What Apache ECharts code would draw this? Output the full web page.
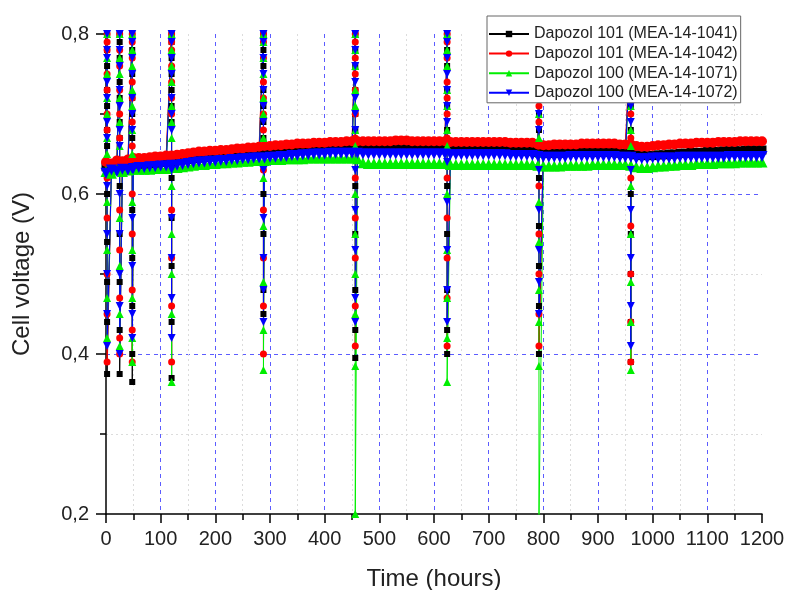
<!DOCTYPE html>
<html>
<head>
<meta charset="utf-8">
<script src="https://cdn.jsdelivr.net/npm/echarts@6/dist/echarts.min.js"></script>
<style>
  html, body { margin: 0; padding: 0; background: #fff; }
  #chart { width: 785px; height: 590px; }
</style>
</head>
<body>
<div id="chart"></div>
<script>
// time grid of the steady parts (hours)
const hours = [
  0, 10, 20, 30, 40, 50, 60, 70, 80, 90, 100, 110, 120, 130, 140, 150, 160, 170, 180, 190,
  200, 210, 220, 230, 240, 250, 260, 270, 280, 290, 300, 310, 320, 330, 340, 350, 360, 370, 380, 390,
  400, 410, 420, 430, 440, 450, 460, 470, 480, 490, 500, 510, 520, 530, 540, 550, 560, 570, 580, 590,
  600, 610, 620, 630, 640, 650, 660, 670, 680, 690, 700, 710, 720, 730, 740, 750, 760, 770, 780, 790,
  800, 810, 820, 830, 840, 850, 860, 870, 880, 890, 900, 910, 920, 930, 940, 950, 960, 970, 980, 990,
  1000, 1010, 1020, 1030, 1040, 1050, 1060, 1070, 1080, 1090, 1100, 1110, 1120, 1130, 1140, 1150, 1160, 1170, 1180, 1190,
  1200
];

// times where the test was stopped (polarisation / restart)
const stops = [2, 25, 48, 120, 288, 456, 624, 792, 960];

const names = [
  'Dapozol 101 (MEA-14-1041)',
  'Dapozol 101 (MEA-14-1042)',
  'Dapozol 100 (MEA-14-1071)',
  'Dapozol 100 (MEA-14-1072)'
];

// steady voltage, one value per entry of hours
const v1041 = [
  0.634, 0.632, 0.636, 0.633, 0.635, 0.637,
  0.638, 0.637, 0.639, 0.638, 0.640, 0.640, 0.641,
  0.642, 0.643, 0.643, 0.644, 0.645, 0.646, 0.647, 0.648,
  0.648, 0.649, 0.650, 0.650, 0.651, 0.651, 0.652, 0.652, 0.653,
  0.653, 0.654, 0.654, 0.655, 0.655, 0.656, 0.656, 0.656, 0.657, 0.657, 0.657,
  0.657, 0.658, 0.658, 0.658, 0.658, 0.659, 0.658, 0.658, 0.658, 0.658,
  0.658, 0.658, 0.659, 0.658, 0.658, 0.658, 0.658, 0.657, 0.658, 0.658,
  0.658, 0.658, 0.656, 0.655, 0.655, 0.656, 0.656, 0.656, 0.656, 0.656,
  0.656, 0.655, 0.655, 0.655, 0.655, 0.654, 0.654, 0.654, 0.652, 0.651,
  0.651, 0.651, 0.651, 0.652, 0.652, 0.652, 0.652, 0.652, 0.652, 0.652,
  0.652, 0.652, 0.652, 0.651, 0.651, 0.651, 0.649, 0.648, 0.648, 0.648,
  0.649, 0.649, 0.650, 0.650, 0.651, 0.651, 0.652, 0.652, 0.652, 0.653,
  0.653, 0.653, 0.654, 0.654, 0.654, 0.654, 0.655, 0.655, 0.655, 0.655
];
const v1042 = [
  0.640, 0.638, 0.642, 0.641, 0.643, 0.645,
  0.645, 0.645, 0.646, 0.647, 0.647, 0.648, 0.648,
  0.649, 0.650, 0.651, 0.652, 0.653, 0.653, 0.654, 0.654,
  0.655, 0.655, 0.656, 0.657, 0.657, 0.658, 0.658, 0.659, 0.660,
  0.660, 0.661, 0.661, 0.662, 0.662, 0.663, 0.663, 0.663, 0.664, 0.664, 0.664,
  0.665, 0.665, 0.665, 0.666, 0.666, 0.666, 0.666, 0.666, 0.666, 0.666,
  0.666, 0.666, 0.667, 0.667, 0.667, 0.666, 0.666, 0.666, 0.666, 0.666,
  0.666, 0.666, 0.665, 0.665, 0.665, 0.665, 0.665, 0.665, 0.665, 0.665,
  0.665, 0.665, 0.665, 0.664, 0.664, 0.664, 0.664, 0.664, 0.662, 0.661,
  0.661, 0.662, 0.662, 0.662, 0.662, 0.662, 0.663, 0.663, 0.663, 0.663,
  0.663, 0.663, 0.663, 0.662, 0.662, 0.662, 0.660, 0.659, 0.659, 0.660,
  0.661, 0.661, 0.662, 0.662, 0.663, 0.663, 0.663, 0.664, 0.664, 0.664,
  0.664, 0.665, 0.665, 0.665, 0.665, 0.666, 0.666, 0.666, 0.666, 0.666
];
const v1071 = [
  0.628, 0.626, 0.630, 0.628, 0.630, 0.631,
  0.631, 0.631, 0.631, 0.632, 0.632, 0.632, 0.633,
  0.633, 0.634, 0.635, 0.636, 0.637, 0.637, 0.638, 0.638,
  0.639, 0.639, 0.640, 0.640, 0.641, 0.641, 0.642, 0.642, 0.642,
  0.643, 0.643, 0.643, 0.644, 0.644, 0.644, 0.644, 0.645, 0.645, 0.645, 0.645,
  0.645, 0.645, 0.645, 0.645, 0.645, 0.644, 0.639, 0.638, 0.638, 0.638,
  0.638, 0.638, 0.638, 0.638, 0.638, 0.638, 0.638, 0.638, 0.638, 0.638,
  0.638, 0.638, 0.637, 0.637, 0.637, 0.637, 0.637, 0.637, 0.637, 0.637,
  0.637, 0.637, 0.637, 0.637, 0.637, 0.637, 0.637, 0.637, 0.636, 0.635,
  0.635, 0.635, 0.635, 0.636, 0.636, 0.636, 0.636, 0.636, 0.637, 0.637,
  0.637, 0.637, 0.637, 0.637, 0.637, 0.636, 0.634, 0.633, 0.633, 0.634,
  0.635, 0.635, 0.636, 0.636, 0.637, 0.637, 0.637, 0.638, 0.638, 0.638,
  0.638, 0.639, 0.639, 0.639, 0.639, 0.640, 0.640, 0.640, 0.640, 0.640
];
const v1072 = [
  0.626, 0.630, 0.628, 0.631, 0.630, 0.632,
  0.633, 0.633, 0.634, 0.634, 0.635, 0.635, 0.636,
  0.636, 0.637, 0.638, 0.639, 0.640, 0.640, 0.641, 0.641,
  0.642, 0.642, 0.643, 0.643, 0.644, 0.644, 0.645, 0.645, 0.645,
  0.646, 0.646, 0.647, 0.647, 0.648, 0.648, 0.649, 0.649, 0.650, 0.650, 0.650,
  0.651, 0.651, 0.651, 0.651, 0.651, 0.651, 0.650, 0.650, 0.650, 0.650,
  0.650, 0.650, 0.650, 0.650, 0.650, 0.650, 0.650, 0.650, 0.650, 0.650,
  0.650, 0.650, 0.649, 0.649, 0.649, 0.649, 0.649, 0.649, 0.649, 0.649,
  0.649, 0.649, 0.649, 0.648, 0.648, 0.648, 0.648, 0.648, 0.647, 0.646,
  0.646, 0.646, 0.646, 0.646, 0.647, 0.647, 0.647, 0.647, 0.647, 0.647,
  0.647, 0.647, 0.647, 0.646, 0.646, 0.646, 0.644, 0.644, 0.644, 0.645,
  0.645, 0.645, 0.645, 0.645, 0.646, 0.646, 0.646, 0.646, 0.646, 0.646,
  0.646, 0.646, 0.646, 0.647, 0.647, 0.647, 0.647, 0.647, 0.647, 0.647
];

// readings during each stop, one list per entry of stops
const s1041 = [
  [0.80, 0.78, 0.76, 0.73, 0.71, 0.68, 0.66, 0.63, 0.60, 0.54, 0.49, 0.44, 0.375],
  [0.80, 0.79, 0.77, 0.74, 0.72, 0.69, 0.67, 0.61, 0.55, 0.49, 0.43, 0.375],
  [0.80, 0.78, 0.75, 0.72, 0.70, 0.67, 0.64, 0.58, 0.52, 0.46, 0.40, 0.365],
  [0.80, 0.79, 0.77, 0.75, 0.73, 0.71, 0.69, 0.62, 0.57, 0.51, 0.44, 0.37],
  [0.80, 0.78, 0.76, 0.73, 0.71, 0.69, 0.67, 0.60, 0.55, 0.48, 0.45],
  [0.80, 0.78, 0.76, 0.73, 0.70, 0.68, 0.66, 0.61, 0.55, 0.48, 0.43, 0.395],
  [0.80, 0.78, 0.76, 0.73, 0.71, 0.68, 0.66, 0.61, 0.55, 0.48, 0.43, 0.40],
  [0.80, 0.79, 0.77, 0.74, 0.72, 0.70, 0.68, 0.62, 0.56, 0.51, 0.46, 0.40],
  [0.80, 0.78, 0.76, 0.73, 0.71, 0.68, 0.66, 0.60, 0.55, 0.50, 0.44, 0.39]
];
const s1042 = [
  [0.80, 0.79, 0.78, 0.75, 0.73, 0.70, 0.68, 0.62, 0.57, 0.50, 0.45, 0.39],
  [0.80, 0.78, 0.76, 0.73, 0.70, 0.67, 0.64, 0.58, 0.53, 0.47, 0.42, 0.40],
  [0.80, 0.79, 0.77, 0.74, 0.72, 0.69, 0.66, 0.60, 0.55, 0.48, 0.43, 0.39],
  [0.80, 0.79, 0.78, 0.76, 0.74, 0.72, 0.70, 0.64, 0.58, 0.52, 0.46, 0.39],
  [0.80, 0.79, 0.77, 0.74, 0.72, 0.70, 0.68, 0.63, 0.58, 0.52, 0.46, 0.40],
  [0.80, 0.79, 0.77, 0.75, 0.73, 0.70, 0.67, 0.62, 0.57, 0.52, 0.46, 0.41],
  [0.80, 0.79, 0.77, 0.74, 0.72, 0.70, 0.67, 0.62, 0.57, 0.52, 0.47, 0.41],
  [0.80, 0.78, 0.76, 0.73, 0.71, 0.69, 0.66, 0.61, 0.55, 0.50, 0.45, 0.41],
  [0.80, 0.79, 0.77, 0.74, 0.72, 0.70, 0.67, 0.62, 0.56, 0.50, 0.44, 0.39]
];
const s1071 = [
  [0.80, 0.77, 0.75, 0.72, 0.70, 0.67, 0.65, 0.59, 0.53, 0.47, 0.42],
  [0.80, 0.77, 0.75, 0.72, 0.69, 0.66, 0.63, 0.57, 0.51, 0.45, 0.41],
  [0.80, 0.78, 0.76, 0.73, 0.71, 0.68, 0.65, 0.59, 0.53, 0.47, 0.42, 0.39],
  [0.80, 0.78, 0.76, 0.74, 0.71, 0.69, 0.67, 0.61, 0.55, 0.50, 0.45, 0.365],
  [0.80, 0.79, 0.77, 0.75, 0.72, 0.70, 0.67, 0.62, 0.56, 0.49, 0.43, 0.38],
  [0.80, 0.78, 0.76, 0.73, 0.71, 0.68, 0.66, 0.60, 0.55, 0.50, 0.45, 0.385, 0.20],
  [0.80, 0.78, 0.76, 0.73, 0.71, 0.68, 0.66, 0.60, 0.53, 0.47, 0.42, 0.365],
  [0.80, 0.77, 0.75, 0.72, 0.70, 0.67, 0.65, 0.59, 0.54, 0.48, 0.44, 0.385, 0.19],
  [0.80, 0.78, 0.76, 0.73, 0.71, 0.68, 0.66, 0.61, 0.55, 0.49, 0.44, 0.38]
];
const s1072 = [
  [0.80, 0.78, 0.77, 0.74, 0.72, 0.69, 0.67, 0.61, 0.55, 0.50, 0.45, 0.41],
  [0.80, 0.78, 0.76, 0.73, 0.71, 0.68, 0.66, 0.60, 0.55, 0.50, 0.46, 0.40],
  [0.80, 0.79, 0.77, 0.75, 0.72, 0.70, 0.68, 0.63, 0.57, 0.51, 0.45, 0.42],
  [0.80, 0.79, 0.77, 0.75, 0.72, 0.70, 0.68, 0.63, 0.57, 0.52, 0.47, 0.42],
  [0.80, 0.79, 0.77, 0.75, 0.73, 0.71, 0.69, 0.63, 0.57, 0.52, 0.48, 0.44],
  [0.80, 0.78, 0.76, 0.74, 0.72, 0.70, 0.68, 0.63, 0.58, 0.53, 0.47, 0.44],
  [0.80, 0.79, 0.77, 0.75, 0.73, 0.71, 0.69, 0.64, 0.59, 0.53, 0.48, 0.44],
  [0.80, 0.79, 0.77, 0.74, 0.72, 0.70, 0.68, 0.63, 0.58, 0.53, 0.49, 0.45],
  [0.80, 0.79, 0.77, 0.75, 0.73, 0.71, 0.69, 0.63, 0.58, 0.52, 0.46, 0.41]
];

const fontFamily = "'Liberation Sans', Arial, sans-serif";

// put the stop readings in between the steady readings, in time order
function buildPoints(base, spikes) {
  const pts = [];
  const isStop = [];
  let k = 0;
  hours.forEach((t, i) => {
    while (k < stops.length && stops[k] <= t) {
      spikes[k].forEach(v => { pts.push([stops[k], v]); isStop.push(true); });
      k++;
    }
    pts.push([t, base[i]]);
    isStop.push(false);
  });
  return { pts, isStop };
}

function makeSeries(name, color, symbol, size, rotate, base, spikes) {
  const built = buildPoints(base, spikes);
  return {
    name: name,
    type: 'line',
    data: built.pts,
    symbol: symbol,
    symbolSize: (val, p) => (built.isStop[p.dataIndex] ? size : size + 3),
    symbolRotate: rotate,
    color: color,
    lineStyle: { color: color, width: 1 },
    itemStyle: { color: color },
    emphasis: { disabled: true },
    clip: true,
    animation: false
  };
}

const chart = echarts.init(document.getElementById('chart'));

const option = {
  backgroundColor: '#fff',
  animation: false,
  textStyle: { fontFamily: fontFamily },
  grid: { left: 106, right: 23, top: 34, bottom: 76, containLabel: false, outerBoundsMode: 'none' },
  legend: {
    orient: 'vertical',
    left: 487,
    top: 16,
    data: names,
    backgroundColor: '#fff',
    borderColor: '#666',
    borderWidth: 1,
    padding: [10, 3, 2, 1],
    itemGap: 3.6,
    itemWidth: 40,
    itemHeight: 8,
    textStyle: { fontSize: 16, color: '#222', fontFamily: fontFamily }
  },
  xAxis: {
    type: 'value',
    min: 0,
    max: 1200,
    interval: 100,
    name: 'Time (hours)',
    nameLocation: 'middle',
    nameGap: 53,
    nameTextStyle: { fontSize: 24, color: '#222', fontFamily: fontFamily },
    axisLine: { onZero: false, lineStyle: { color: '#000', width: 1.5 } },
    axisTick: { show: true, inside: false, length: 9, lineStyle: { color: '#000', width: 1.5 } },
    minorTick: { show: true, splitNumber: 2, length: 6, lineStyle: { color: '#000', width: 1.5 } },
    axisLabel: { margin: 15, fontSize: 20, color: '#222', fontFamily: fontFamily, formatter: v => String(v) },
    splitLine: {
      show: true, showMinLine: false, showMaxLine: false,
      lineStyle: { color: '#5c5cff', width: 1, type: [4, 4] }
    },
    minorSplitLine: { show: true, lineStyle: { color: '#dcdcdc', width: 1, type: [2, 3] } }
  },
  yAxis: {
    type: 'value',
    min: 0.2,
    max: 0.8,
    interval: 0.2,
    name: 'Cell voltage (V)',
    nameLocation: 'middle',
    nameRotate: 90,
    nameGap: 72,
    nameTextStyle: { fontSize: 24, color: '#222', fontFamily: fontFamily },
    axisLine: { show: true, onZero: false, lineStyle: { color: '#000', width: 1.5 } },
    axisTick: { show: true, inside: false, length: 10, lineStyle: { color: '#000', width: 1.5 } },
    minorTick: { show: true, splitNumber: 2, length: 6, lineStyle: { color: '#000', width: 1.5 } },
    axisLabel: {
      margin: 17, fontSize: 20, color: '#222', fontFamily: fontFamily,
      formatter: v => v.toFixed(1).replace('.', ',')
    },
    splitLine: {
      show: true, showMinLine: false, showMaxLine: false,
      lineStyle: { color: '#5c5cff', width: 1, type: [4, 4] }
    },
    minorSplitLine: { show: true, lineStyle: { color: '#dcdcdc', width: 1, type: [2, 3] } }
  },
  series: [
    makeSeries(names[0], '#000000', 'rect', 6, 0, v1041, s1041),
    makeSeries(names[1], '#ff0000', 'circle', 7, 0, v1042, s1042),
    makeSeries(names[2], '#00ee00', 'triangle', 8, 0, v1071, s1071),
    makeSeries(names[3], '#0000ff', 'triangle', 8, 180, v1072, s1072)
  ]
};

chart.setOption(option);
</script>
</body>
</html>
